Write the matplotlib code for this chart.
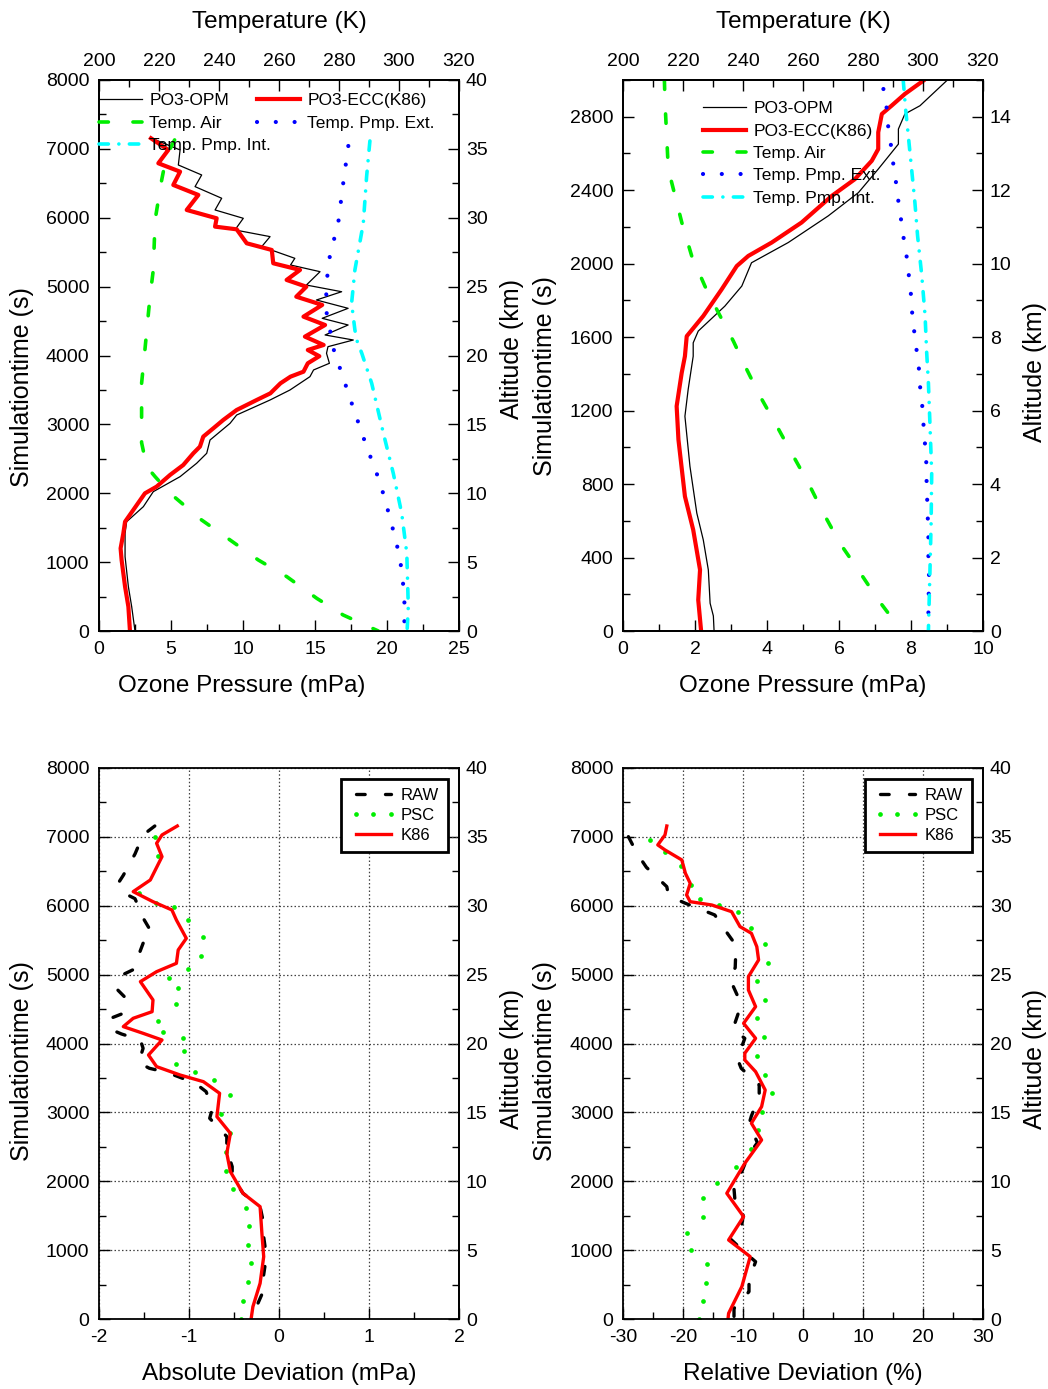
import matplotlib
matplotlib.use("Agg")
import matplotlib.pyplot as plt
from matplotlib.ticker import FixedLocator, FormatStrFormatter

plt.rcParams['font.family'] = ['Liberation Sans', 'DejaVu Sans']
plt.rcParams['axes.unicode_minus'] = False

# ---------------- data: ozone sounding, full flight (time in s) ----------------
tl_k86_t = [7154, 6984, 6791, 6669, 6476, 6331, 6113, 5992, 5871, 5832, 5629, 5532, 5339,
            5242, 5097, 4999, 4854, 4734, 4564, 4443, 4274, 4153, 4080, 3990, 3887, 3765,
            3693, 3596, 3451, 3354, 3209, 3064, 2943, 2822, 2677, 2580, 2410, 2265, 2096,
            1999, 1757, 1587, 1418, 1200, 1031, 644, 353, 0]
tl_k86_p = [3.61, 4.81, 4.12, 5.63, 5.16, 6.90, 6.09, 8.17, 8.06, 9.56, 10.26, 12.0, 12.1,
            13.96, 13.03, 14.4, 13.7, 15.5, 14.2, 15.7, 14.3, 15.6, 14.5, 15.3, 14.5, 14.2,
            13.3, 12.6, 11.9, 10.95, 9.56, 8.63, 7.94, 7.24, 7.01, 6.55, 5.85, 4.93, 4.0,
            3.19, 2.38, 1.81, 1.69, 1.50, 1.57, 1.81, 2.04, 2.15]

tl_opm_t = [7154, 6984, 6766, 6621, 6452, 6283, 6113, 5992, 5823, 5726, 5581, 5411, 5314,
            5217, 5023, 4926, 4806, 4685, 4540, 4443, 4298, 4225, 4128, 4032, 3887, 3790,
            3693, 3499, 3354, 3136, 3015, 2773, 2580, 2435, 2241, 2023, 1805, 1587, 1418,
            1079, 644, 353, 0]
tl_opm_p = [3.66, 5.63, 5.51, 7.13, 6.67, 8.52, 8.06, 10.02, 9.44, 11.88, 11.3, 13.6, 13.3,
            15.35, 14.4, 16.85, 15.1, 17.3, 15.5, 17.3, 15.7, 17.66, 15.9, 15.8, 16.0, 14.9,
            14.65, 13.26, 11.88, 9.56, 9.1, 7.71, 7.48, 6.78, 5.63, 3.77, 3.08, 1.92, 1.81,
            1.81, 2.04, 2.27, 2.5]

tl_air_t = [7130, 6900, 6549, 5968, 5242, 4854, 4080, 3596, 3112, 2734, 2386, 2241, 1999,
            1612, 1321, 1031, 789, 474, 232, 0]
tl_air_k = [225.2, 222.5, 220.9, 218.7, 218.1, 217.0, 215.3, 214.2, 214.2, 214.2, 215.9,
            218.7, 223.7, 234.2, 243.7, 253.1, 262.6, 272.6, 281.4, 293.1]

tl_ext_t = [7042, 6500, 5945, 5411, 4999, 4612, 4056, 3780, 3233, 2702, 2154, 1612, 1070,
            523, 0]
tl_ext_k = [283.1, 281.4, 279.8, 276.8, 275.7, 275.9, 278.4, 280.6, 284.8, 289.0, 293.7,
            297.2, 300.3, 301.8, 301.8]

tl_int_t = [7115, 6597, 5920, 5242, 4758, 4371, 4225, 4032, 3596, 2870, 2289, 1709, 1128,
            354, 0]
tl_int_k = [290.3, 289.2, 288.1, 285.3, 284.2, 285.3, 285.9, 287.6, 290.9, 294.8, 298.1,
            300.9, 302.6, 303.1, 302.7]

# ---------------- data: first 3000 s of the flight ----------------
tr_k86_t = [2996, 2924, 2860, 2815, 2715, 2624, 2560, 2460, 2369, 2224, 2115, 2042, 1987,
            1860, 1715, 1605, 1496, 1405, 1224, 1042, 733, 551, 333, 169, 0]
tr_k86_p = [8.34, 7.83, 7.46, 7.19, 7.09, 7.09, 6.91, 6.44, 5.80, 4.96, 4.13, 3.48, 3.16,
            2.74, 2.23, 1.77, 1.72, 1.63, 1.49, 1.54, 1.72, 1.95, 2.14, 2.09, 2.17]

tr_opm_t = [2996, 2860, 2815, 2733, 2651, 2515, 2387, 2260, 2115, 2005, 1878, 1769, 1633,
            1569, 1496, 1315, 1169, 896, 642, 496, 333, 151, 82, 0]
tr_opm_p = [8.99, 8.25, 7.83, 7.65, 7.65, 7.09, 6.54, 5.70, 4.59, 3.57, 3.30, 2.83, 2.09,
            1.95, 1.95, 1.81, 1.72, 1.86, 2.05, 2.23, 2.37, 2.42, 2.51, 2.53]

tr_air_t = [3000, 2878, 2515, 2224, 2042, 1878, 1733, 1578, 1442, 1278, 1133, 969, 805, 642,
            478, 333, 169, 0]
tr_air_k = [213.8, 214.0, 215.1, 219.6, 222.9, 227.3, 231.8, 236.8, 240.7, 245.7, 250.7,
            256.2, 261.8, 266.8, 272.3, 278.4, 285.1, 292.9]

tr_ext_t = [2951, 2846, 2746, 2646, 2542, 2442, 2338, 2238, 2133, 2033, 1933, 1829, 1729,
            1627, 1524, 1420, 1315, 1218, 1114, 1011, 915, 815, 713, 612, 508, 404, 306,
            204, 102, 0]
tr_ext_k = [286.8, 287.9, 288.4, 289.3, 290.1, 291.0, 291.8, 292.7, 293.6, 294.6, 295.3,
            296.0, 296.4, 297.1, 297.9, 298.7, 299.1, 299.8, 300.2, 300.7, 301.1, 301.2,
            301.4, 301.6, 301.8, 301.8, 302.0, 301.9, 301.8, 301.8]

tr_int_t = [3000, 2842, 2697, 2515, 2333, 2151, 1933, 1715, 1524, 1351, 1133, 860, 587, 315, 0]
tr_int_k = [293.4, 294.2, 295.1, 296.2, 297.3, 298.2, 299.6, 300.7, 301.2, 301.8, 302.3,
            302.9, 302.7, 302.3, 301.8]

# ---------------- data: absolute deviation (mPa) ----------------
ad_k86_t = [7158, 7028, 6907, 6713, 6374, 6205, 6059, 5939, 5793, 5527, 5358, 5164, 5043,
            4898, 4632, 4462, 4366, 4245, 4148, 4051, 3833, 3664, 3543, 3446, 3277, 2938,
            2696, 2406, 2139, 1825, 1631, 1244, 905, 518, 179, 0]
ad_k86_v = [-1.13, -1.30, -1.36, -1.30, -1.43, -1.62, -1.40, -1.19, -1.14, -1.03, -1.12,
            -1.14, -1.36, -1.54, -1.40, -1.41, -1.62, -1.73, -1.51, -1.30, -1.45, -1.36,
            -1.10, -0.84, -0.66, -0.69, -0.54, -0.58, -0.54, -0.40, -0.21, -0.19, -0.17,
            -0.21, -0.29, -0.31]

ad_raw_t = [7158, 7028, 6752, 6442, 6320, 6162, 6103, 5800, 5600, 5455, 5072, 4990, 4801,
            4656, 4438, 4366, 4205, 4138, 4051, 3930, 3722, 3640, 3582, 3519, 3422, 3301,
            3059, 2914, 2648, 2454, 2212, 2067, 1825, 1631, 1384, 1191, 910, 557, 388, 150, 0]
ad_raw_v = [-1.38, -1.51, -1.60, -1.73, -1.79, -1.69, -1.60, -1.50, -1.41, -1.51, -1.62,
            -1.75, -1.81, -1.70, -1.73, -1.87, -1.87, -1.75, -1.54, -1.51, -1.56, -1.44,
            -1.25, -1.12, -0.93, -0.81, -0.74, -0.77, -0.58, -0.58, -0.52, -0.52, -0.40,
            -0.21, -0.17, -0.17, -0.14, -0.18, -0.18, -0.26, -0.27]

ad_psc_t = [6994, 6723, 6192, 6046, 5978, 5793, 5551, 5276, 5077, 4946, 4810, 4568, 4326,
            4172, 4085, 3896, 3697, 3582, 3470, 3253, 2977, 2696, 2430, 2154, 1893, 1617,
            1350, 1074, 808, 532, 261, 0]
ad_psc_v = [-1.38, -1.35, -1.56, -1.37, -1.17, -1.01, -0.84, -0.87, -1.01, -1.22, -1.12,
            -1.14, -1.35, -1.29, -1.07, -1.06, -1.14, -0.93, -0.72, -0.54, -0.64, -0.55,
            -0.59, -0.59, -0.51, -0.37, -0.33, -0.35, -0.31, -0.35, -0.40, -0.42]

# ---------------- data: relative deviation (%) ----------------
rd_k86_t = [7158, 7028, 6883, 6810, 6665, 6471, 6326, 6157, 6059, 6011, 5914, 5697, 5600,
            5406, 5213, 4970, 4777, 4535, 4293, 4075, 3858, 3761, 3591, 3325, 3083, 2842,
            2599, 2260, 1825, 1486, 1147, 905, 469, 82, 0]
rd_k86_v = [-22.7, -23.0, -24.2, -23.0, -20.2, -19.6, -18.8, -19.4, -18.8, -15.2, -11.9,
            -10.5, -8.6, -7.7, -7.4, -9.1, -9.1, -7.9, -9.9, -7.9, -9.7, -9.7, -7.9, -6.3,
            -6.9, -8.6, -6.9, -9.7, -12.7, -9.9, -12.4, -8.8, -10.2, -12.4, -12.5]

rd_raw_t = [7003, 6834, 6700, 6558, 6277, 6142, 6036, 5963, 5866, 5721, 5478, 5339, 5101,
            4941, 4632, 4487, 4205, 4075, 3860, 3770, 3640, 3400, 3229, 2948, 2832, 2560,
            2380, 2139, 1994, 1680, 1534, 1316, 1171, 944, 832, 566, 397, 155, 0]
rd_raw_v = [-29.1, -28.1, -27.2, -26.1, -22.7, -22.4, -19.6, -17.5, -14.7, -13.6, -11.6,
            -11.2, -11.3, -12.2, -10.6, -10.6, -11.7, -9.7, -10.6, -10.9, -10.3, -7.3, -7.3,
            -8.6, -9.0, -7.6, -9.1, -10.2, -11.6, -11.3, -9.9, -10.3, -12.2, -9.4, -7.9,
            -9.0, -9.0, -11.5, -11.5]

rd_psc_t = [6955, 6785, 6577, 6297, 6094, 6017, 5914, 5682, 5445, 5169, 4902, 4632, 4366,
            4095, 3819, 3548, 3277, 3001, 2745, 2469, 2203, 1981, 1752, 1476, 1244, 1002,
            798, 527, 256, 0]
rd_psc_v = [-25.5, -23.0, -20.3, -18.6, -17.2, -14.0, -10.9, -8.7, -6.3, -5.9, -7.7, -6.3,
            -7.6, -6.5, -7.6, -6.3, -5.1, -6.9, -7.5, -8.6, -11.2, -14.3, -16.6, -16.6,
            -19.4, -18.7, -16.0, -16.2, -16.7, -17.4]

# ---------------- figure ----------------
W, H = 1048, 1389
fig = plt.figure(figsize=(W / 100, H / 100), dpi=100)


def px_axes(x0, y0, x1, y1):
    return fig.add_axes([x0 / W, 1 - y1 / H, (x1 - x0) / W, (y1 - y0) / H])


def fx(x):
    return x / W


def fy(y):
    return 1 - y / H


def steps(lo, hi, step):
    """Tick positions lo, lo+step, ... up to hi (inclusive), nothing outside."""
    n = int(round((hi - lo) / step))
    return [lo + i * step for i in range(n + 1)]


def set_ticks(axis, lo, hi, maj, mnr):
    axis.set_major_locator(FixedLocator(steps(lo, hi, maj)))
    axis.set_minor_locator(FixedLocator(steps(lo, hi, mnr)))
    axis.set_major_formatter(FormatStrFormatter('%d'))


TICK = dict(direction='in', labelsize=14, width=1.0)


def tick_look(a, pad=7):
    a.tick_params(which='both', **TICK)
    a.tick_params(which='major', length=8, pad=pad)
    a.tick_params(which='minor', length=5)
    for s in a.spines.values():
        s.set_linewidth(1.3)


def style(ax, xlim, ylim, xmaj, xmin, ymaj, ymin):
    ax.set_xlim(*xlim)
    ax.set_ylim(*ylim)
    set_ticks(ax.xaxis, xlim[0], xlim[1], xmaj, xmin)
    set_ticks(ax.yaxis, ylim[0], ylim[1], ymaj, ymin)
    tick_look(ax)
    ax.tick_params(which='both', top=False, right=False)


def altitude_axis(ax, top_km, maj, mnr):
    sec = ax.secondary_yaxis('right', functions=(lambda s: s / 200, lambda a: a * 200))
    set_ticks(sec.yaxis, 0, top_km, maj, mnr)
    tick_look(sec, pad=5)
    return sec


def temperature_axis(ax):
    axT = ax.twiny()
    axT.set_xlim(200, 320)
    set_ticks(axT.xaxis, 200, 320, 20, 10)
    tick_look(axT)
    return axT


GREEN = '#00ee00'
STY_OPM = dict(color='black', lw=0.9)
STY_AIR = dict(color=GREEN, lw=2.6, dashes=(2.6, 6.8), dash_capstyle='round')
STY_EXT = dict(color='#0000ff', lw=3.0, dashes=(0.01, 4.5), dash_capstyle='round')
STY_INT = dict(color='#00ffff', lw=2.6, dashes=(2.6, 2.9, 0.01, 2.9), dash_capstyle='round')
STY_RAW = dict(color='black', lw=2.4, dashes=(2.6, 6.1), dash_capstyle='round')
STY_PSC = dict(color=GREEN, ls='none', marker='o', ms=3.4, mew=0)


def profile_panel(ax, k86_t, k86_p, opm_t, opm_p, air_t, air_k, ext_t, ext_k, int_t, int_k):
    l_opm, = ax.plot(opm_p, opm_t, label='PO3-OPM', **STY_OPM)
    l_k86, = ax.plot(k86_p, k86_t, label='PO3-ECC(K86)', color='red', lw=3.0)
    axT = temperature_axis(ax)
    l_air, = axT.plot(air_k, air_t, label='Temp. Air', **STY_AIR)
    l_ext, = axT.plot(ext_k, ext_t, label='Temp. Pmp. Ext.', **STY_EXT)
    l_int, = axT.plot(int_k, int_t, label='Temp. Pmp. Int.', **STY_INT)
    return axT, (l_opm, l_k86, l_air, l_ext, l_int)


LEG = dict(frameon=False, fontsize=12.5, handlelength=2.5, handletextpad=0.4,
           labelspacing=0.42, borderpad=0, borderaxespad=0, loc='upper left')

# --- top left: full profile ---
ax1 = px_axes(99, 80, 459, 631)
style(ax1, (0, 25), (0, 8000), 5, 2.5, 1000, 500)
altitude_axis(ax1, 40, 5, 2.5)
axT1, (l_opm, l_k86, l_air, l_ext, l_int) = profile_panel(
    ax1, tl_k86_t, tl_k86_p, tl_opm_t, tl_opm_p, tl_air_t, tl_air_k,
    tl_ext_t, tl_ext_k, tl_int_t, tl_int_k)
ax1.set_ylim(0, 8000)
leg_a = axT1.legend([l_opm, l_air, l_int], [h.get_label() for h in (l_opm, l_air, l_int)],
                    bbox_to_anchor=(fx(99), fy(93)), bbox_transform=fig.transFigure, **LEG)
axT1.add_artist(leg_a)
axT1.legend([l_k86, l_ext], [h.get_label() for h in (l_k86, l_ext)],
            bbox_to_anchor=(fx(257), fy(93)), bbox_transform=fig.transFigure, **LEG)

# --- top right: first 3000 s ---
ax2 = px_axes(623, 80, 983, 631)
style(ax2, (0, 10), (0, 3000), 2, 1, 400, 200)
altitude_axis(ax2, 15, 2, 1)
axT2, handles2 = profile_panel(
    ax2, tr_k86_t, tr_k86_p, tr_opm_t, tr_opm_p, tr_air_t, tr_air_k,
    tr_ext_t, tr_ext_k, tr_int_t, tr_int_k)
ax2.set_ylim(0, 3000)
axT2.legend(list(handles2), [h.get_label() for h in handles2],
            bbox_to_anchor=(fx(703), fy(101)), bbox_transform=fig.transFigure, **LEG)

# --- deviation panels ---
DLEG = dict(fontsize=12, handlelength=2.7, handletextpad=0.3, labelspacing=0.3,
            borderpad=0.55, borderaxespad=0, loc='upper right', numpoints=3,
            fancybox=False, framealpha=1, edgecolor='black')


def deviation_panel(ax, raw_t, raw_v, psc_t, psc_v, k86_t, k86_v, right_px):
    ax.set_axisbelow(True)
    ax.grid(True, which='major', color='0.25', lw=0.9, ls=(0, (1.2, 1.8)))
    ax.plot(raw_v, raw_t, label='RAW', **STY_RAW)
    ax.plot(psc_v, psc_t, label='PSC', **STY_PSC)
    ax.plot(k86_v, k86_t, label='K86', color='red', lw=2.4)
    leg = ax.legend(bbox_to_anchor=(fx(right_px), fy(779)), bbox_transform=fig.transFigure,
                    **DLEG)
    leg.get_frame().set_linewidth(2.0)


ax3 = px_axes(99, 768, 459, 1319)
style(ax3, (-2, 2), (0, 8000), 1, 0.5, 1000, 500)
altitude_axis(ax3, 40, 5, 2.5)
deviation_panel(ax3, ad_raw_t, ad_raw_v, ad_psc_t, ad_psc_v, ad_k86_t, ad_k86_v, 448)

ax4 = px_axes(623, 768, 983, 1319)
style(ax4, (-30, 30), (0, 8000), 10, 5, 1000, 500)
altitude_axis(ax4, 40, 5, 2.5)
deviation_panel(ax4, rd_raw_t, rd_raw_v, rd_psc_t, rd_psc_v, rd_k86_t, rd_k86_v, 972)

# ---------------- axis titles ----------------
LBL = dict(fontsize=17.5, ha='center', va='center')
VLBL = dict(fontsize=18, ha='center', va='center', rotation=90)
fig.text(fx(279), fy(22), 'Temperature (K)', **LBL)
fig.text(fx(803), fy(22), 'Temperature (K)', **LBL)
fig.text(fx(242), fy(686), 'Ozone Pressure (mPa)', **LBL)
fig.text(fx(803), fy(686), 'Ozone Pressure (mPa)', **LBL)
fig.text(fx(279), fy(1374), 'Absolute Deviation (mPa)', **LBL)
fig.text(fx(803), fy(1374), 'Relative Deviation (%)', **LBL)

# vertical titles: (x, y) centres in pixels
for x, y in ((22, 387), (545, 376), (22, 1061), (545, 1061)):
    fig.text(fx(x), fy(y), 'Simulationtime (s)', **VLBL)
for x, y in ((512, 349), (1035, 372), (512, 1059), (1035, 1059)):
    fig.text(fx(x), fy(y), 'Altitude (km)', **VLBL)

fig.savefig('out.png', dpi=100)
